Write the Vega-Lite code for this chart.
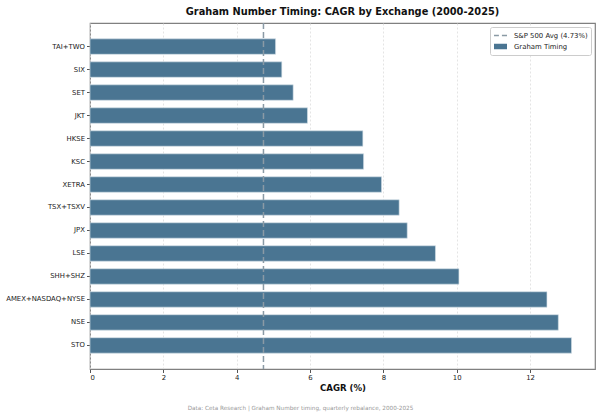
{
  "$schema": "https://vega.github.io/schema/vega-lite/v6.json",
  "autosize": {"type": "none"},
  "padding": {"left": 90, "top": 23, "right": 5, "bottom": 46},
  "width": 505,
  "height": 346,
  "background": "white",
  "title": {
    "text": "Graham Number Timing: CAGR by Exchange (2000-2025)",
    "font": "DejaVu Sans",
    "fontSize": 9.8,
    "fontWeight": "bold",
    "color": "#111111",
    "anchor": "middle",
    "frame": "group",
    "baseline": "bottom",
    "offset": 7,
    "dy": 12
  },
  "config": {
    "font": "DejaVu Sans",
    "view": {"stroke": "#808080", "strokeWidth": 1.2},
    "axis": {
      "labelFont": "DejaVu Sans",
      "labelFontSize": 6.9,
      "labelColor": "#222222",
      "tickColor": "#555555",
      "tickSize": 3.5,
      "domain": false
    }
  },
  "datasets": {
    "bars": [
      {"exchange": "TAI+TWO", "cagr": 5.06, "series": "Graham Timing"},
      {"exchange": "SIX", "cagr": 5.23, "series": "Graham Timing"},
      {"exchange": "SET", "cagr": 5.54, "series": "Graham Timing"},
      {"exchange": "JKT", "cagr": 5.93, "series": "Graham Timing"},
      {"exchange": "HKSE", "cagr": 7.44, "series": "Graham Timing"},
      {"exchange": "KSC", "cagr": 7.46, "series": "Graham Timing"},
      {"exchange": "XETRA", "cagr": 7.95, "series": "Graham Timing"},
      {"exchange": "TSX+TSXV", "cagr": 8.43, "series": "Graham Timing"},
      {"exchange": "JPX", "cagr": 8.65, "series": "Graham Timing"},
      {"exchange": "LSE", "cagr": 9.42, "series": "Graham Timing"},
      {"exchange": "SHH+SHZ", "cagr": 10.06, "series": "Graham Timing"},
      {"exchange": "AMEX+NASDAQ+NYSE", "cagr": 12.46, "series": "Graham Timing"},
      {"exchange": "NSE", "cagr": 12.77, "series": "Graham Timing"},
      {"exchange": "STO", "cagr": 13.13, "series": "Graham Timing"}
    ],
    "avg": [
      {"cagr": 4.73, "series": "S&P 500 Avg (4.73%)"}
    ]
  },
  "layer": [
    {
      "data": {"name": "bars"},
      "mark": {"type": "bar", "stroke": "#d5e0e8", "strokeWidth": 0.6},
      "encoding": {
        "y": {
          "field": "exchange",
          "type": "nominal",
          "sort": {"field": "cagr", "order": "ascending"},
          "scale": {"paddingInner": 0.33, "paddingOuter": 0.69},
          "axis": {"title": null, "labelPadding": 2, "grid": false}
        },
        "x": {
          "field": "cagr",
          "type": "quantitative",
          "scale": {"domain": [0, 13.77], "nice": false, "zero": true},
          "axis": {
            "title": "CAGR (%)",
            "titleFont": "DejaVu Sans",
            "titleFontSize": 8.6,
            "titleFontWeight": "bold",
            "titleColor": "#111111",
            "titlePadding": 3,
            "values": [0, 2, 4, 6, 8, 10, 12],
            "labelPadding": 2,
            "grid": true,
            "gridColor": "#dddddd",
            "gridDash": [2, 2],
            "gridWidth": 0.8
          }
        },
        "color": {"value": "#4a7592"}
      }
    },
    {
      "data": {"name": "avg"},
      "mark": {"type": "rule", "strokeDash": [6, 3], "strokeWidth": 1.5, "color": "#8a9aa5"},
      "encoding": {
        "x": {
          "field": "cagr",
          "type": "quantitative",
          "axis": {
            "orient": "bottom",
            "title": "Data: Ceta Research | Graham Number timing, quarterly rebalance, 2000-2025",
            "titleFont": "DejaVu Sans",
            "titleFontSize": 5.7,
            "titleFontWeight": "normal",
            "titleColor": "#999999",
            "titleX": 210,
            "titleY": 38,
            "titleBaseline": "middle",
            "titleAnchor": "middle",
            "labels": false,
            "ticks": false,
            "grid": false,
            "domain": false
          }
        }
      }
    },
    {
      "data": {"name": "avg"},
      "mark": {"type": "point", "filled": false, "strokeWidth": 1.5, "opacity": 0},
      "encoding": {
        "color": {
          "field": "series",
          "type": "nominal",
          "scale": {
            "domain": ["S&P 500 Avg (4.73%)", "Graham Timing"],
            "range": ["#8a9aa5", "#4a7592"]
          },
          "legend": {
            "title": null,
            "orient": "top-right",
            "offset": 4,
            "strokeColor": "#cccccc",
            "fillColor": "white",
            "padding": 3,
            "cornerRadius": 2,
            "labelFont": "DejaVu Sans",
            "labelFontSize": 6.9,
            "labelColor": "#222222",
            "labelOffset": 10,
            "rowPadding": 2,
            "symbolSize": 81,
            "symbolStrokeWidth": 1.5,
            "symbolOpacity": 1
          }
        },
        "shape": {
          "field": "series",
          "type": "nominal",
          "scale": {
            "domain": ["S&P 500 Avg (4.73%)", "Graham Timing"],
            "range": ["M-1,0H0.09M0.76,0H1.89", "M-1,-0.42H1.89M-1,-0.21H1.89M-1,0H1.89M-1,0.21H1.89M-1,0.42H1.89"]
          },
          "legend": {
            "title": null,
            "orient": "top-right",
            "offset": 4,
            "strokeColor": "#cccccc",
            "fillColor": "white",
            "padding": 3,
            "cornerRadius": 2,
            "labelFont": "DejaVu Sans",
            "labelFontSize": 6.9,
            "labelColor": "#222222",
            "labelOffset": 10,
            "rowPadding": 2,
            "symbolSize": 81,
            "symbolStrokeWidth": 1.5,
            "symbolOpacity": 1
          }
        }
      }
    }
  ],
  "resolve": {"axis": {"x": "independent"}}
}
